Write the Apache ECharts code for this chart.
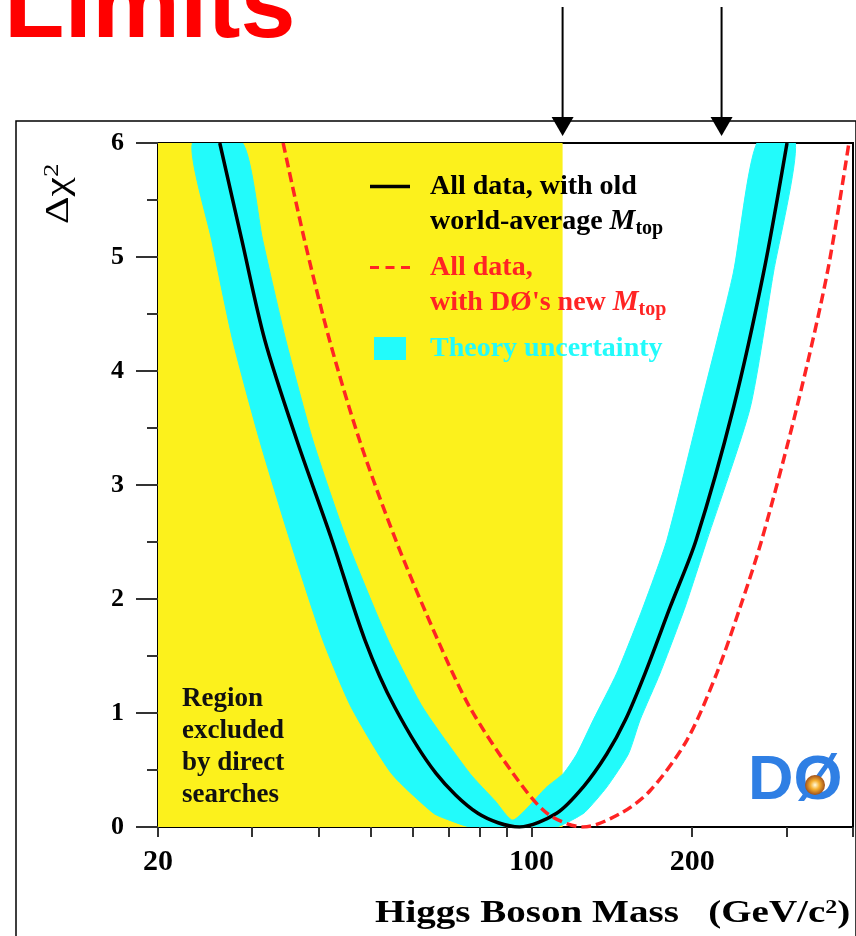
<!DOCTYPE html>
<html>
<head>
<meta charset="utf-8">
<title>Higgs mass limits</title>
<script src="https://cdn.jsdelivr.net/npm/echarts@6/dist/echarts.min.js"></script>
<style>
  html, body { margin: 0; padding: 0; background: #ffffff; }
  #chart { width: 856px; height: 936px; }
</style>
</head>
<body>
<div id="chart"></div>
<script>
// Δχ² of the electroweak fit versus the Higgs boson mass (GeV/c²).

// Axis ticks and labels
const massTicks = [20, 30, 40, 50, 60, 70, 80, 90, 100, 200, 300, 400];
const massLabels = [20, 100, 200];
const chiTicks = [0, 1, 2, 3, 4, 5, 6];

// Direct-search exclusion boundary and the two marked masses above the frame
const lepLimit = 114.4;
const arrowMasses = [114.4, 227];

// Fit with the old world-average top mass: [mass, Δχ²]
const oldMtopCurve = [
  [26.1, 6.0], [28.7, 5.15], [31.7, 4.27], [36.4, 3.39], [42.3, 2.52],
  [48.8, 1.64], [55.5, 1.05], [66.3, 0.47], [79.4, 0.12],
  [95, 0], [111.5, 0.12], [125, 0.35], [138.4, 0.64], [150, 0.94],
  [163.3, 1.35], [181.9, 1.93], [203.5, 2.52], [239, 3.68], [272, 4.86],
  [301, 6.0]
];

// Fit with the new DØ top mass: [mass, Δχ²]
const newMtopCurve = [
  [34.3, 6.0], [37.6, 5.15], [41.9, 4.27], [47.7, 3.39], [55.7, 2.52],
  [66.8, 1.64], [76.7, 1.05], [92.4, 0.47], [107.0, 0.12], [125, 0],
  [147, 0.12], [166.9, 0.32], [195.4, 0.76], [222.4, 1.35], [246, 1.93],
  [270, 2.52], [314, 3.68], [358, 4.86], [393, 6.0]
];

// Theory-uncertainty band: outer (lower) envelope, left top -> bottom -> right top
const theoryBandOuter = [
  [23.2, 6.0], [25.2, 5.15], [27.6, 4.27], [31.0, 3.39], [35.3, 2.52],
  [40.7, 1.64], [46.0, 1.05], [54.7, 0.47], [65.6, 0.12], [70.2, 0.06],
  [77.0, 0], [111, 0], [119, 0.06], [126, 0.13], [138.4, 0.35],
  [151.9, 0.64], [159.8, 0.94], [174.2, 1.35], [194, 1.93], [213.3, 2.52],
  [256.9, 3.68], [283.8, 4.86], [312, 6.0]
];

// Theory-uncertainty band: inner (upper) envelope, left top -> notch -> right top
const theoryBandInner = [
  [28.8, 6.0], [31.4, 5.15], [34.7, 4.27], [39.0, 3.39], [45.1, 2.52],
  [53.9, 1.64], [62.6, 1.05], [76.7, 0.47], [85.5, 0.23], [92.4, 0.06],
  [106.8, 0.35], [114.8, 0.47], [121.6, 0.64], [130.6, 0.94], [144.5, 1.35],
  [161.9, 1.93], [179.4, 2.52], [207.0, 3.68], [238.8, 4.86], [264.4, 6.0]
];

const seriesNames = [
  'All data, with old world-average Mtop',
  'All data, with DØ\'s new Mtop',
  'Theory uncertainty'
];
const legendLines = [
  'All data, with old\nworld-average {itK|M}{subK|top}',
  'All data,\nwith DØ\'s new {itR|M}{subR|top}',
  'Theory uncertainty'
];
const regionText = 'Region\nexcluded\nby direct\nsearches';

const SERIF = '"Liberation Serif", "Times New Roman", serif';
const SANS = '"Liberation Sans", Arial, sans-serif';
const YELLOW = '#fcf11c';
const CYAN = '#22fbfb';
const RED = '#ff2424';
const BLACK = '#000000';

const chart = echarts.init(document.getElementById('chart'), null, { renderer: 'canvas' });

const richLegend = {
  itK: { fontFamily: SERIF, fontWeight: 'bold', fontStyle: 'italic', fontSize: 29, color: BLACK },
  subK: { fontFamily: SERIF, fontWeight: 'bold', fontSize: 20, color: BLACK, verticalAlign: 'bottom' },
  itR: { fontFamily: SERIF, fontWeight: 'bold', fontStyle: 'italic', fontSize: 29, color: RED },
  subR: { fontFamily: SERIF, fontWeight: 'bold', fontSize: 20, color: RED, verticalAlign: 'bottom' }
};

const option = {
  animation: false,
  backgroundColor: '#ffffff',
  grid: {
    left: 158, right: 3, top: 143, bottom: 109,
    containLabel: false,
    outerBoundsMode: 'none',
    show: true,
    borderColor: BLACK,
    borderWidth: 2,
    backgroundColor: 'transparent'
  },
  legend: {
    orient: 'vertical',
    left: 370,
    top: 134,
    padding: 0,
    itemGap: -24,
    itemWidth: 40,
    itemHeight: 23,
    selectedMode: false,
    itemStyle: { borderWidth: 0 },
    textStyle: {
      fontFamily: SERIF, fontWeight: 'bold', fontSize: 28, lineHeight: 35,
      padding: [35, 0, 0, 15],
      rich: richLegend
    },
    formatter: function (name) {
      return legendLines[seriesNames.indexOf(name)];
    },
    data: [
      { name: seriesNames[0], icon: 'path://M0,0H40V3.5H0Z', textStyle: { color: BLACK } },
      { name: seriesNames[1], icon: 'path://M0,0H9V3H0Z M15.5,0H24.5V3H15.5Z M31,0H40V3H31Z', textStyle: { color: RED } },
      { name: seriesNames[2], icon: 'path://M0,0H32V23H0Z', textStyle: { color: CYAN, padding: [35, 0, 35, 15] } }
    ]
  },
  xAxis: {
    type: 'log',
    logBase: 10,
    min: 20,
    max: 400,
    axisLine: { show: true, onZero: false, lineStyle: { color: BLACK, width: 2 } },
    axisTick: { show: true, inside: false, length: 10, customValues: massTicks, lineStyle: { color: '#333', width: 2 } },
    minorTick: { show: false },
    axisLabel: {
      customValues: massLabels,
      margin: 20,
      color: BLACK,
      fontFamily: SERIF,
      fontWeight: 'bold',
      fontSize: 30
    },
    splitLine: { show: false },
    minorSplitLine: { show: false }
  },
  yAxis: {
    type: 'value',
    min: 0,
    max: 6,
    interval: 1,
    axisLine: { show: true, onZero: false, lineStyle: { color: BLACK, width: 2 } },
    axisTick: { show: true, inside: false, length: 22, lineStyle: { color: '#333', width: 2 } },
    minorTick: { show: true, splitNumber: 2, length: 11, lineStyle: { color: '#333', width: 2 } },
    axisLabel: {
      margin: 34,
      color: BLACK,
      fontFamily: SERIF,
      fontWeight: 'bold',
      fontSize: 26,
      formatter: function (v) { return chiTicks.indexOf(v) >= 0 ? String(v) : ''; }
    },
    splitLine: { show: false }
  },
  series: [
    {
      name: seriesNames[2],
      type: 'custom',
      coordinateSystem: 'cartesian2d',
      z: 2,
      clip: true,
      silent: true,
      itemStyle: { color: CYAN },
      data: [[lepLimit, 0]],
      renderItem: function (params, api) {
        if (params.dataIndex !== 0) return null;
        const outline = theoryBandOuter.concat(theoryBandInner.slice().reverse());
        const pts = outline.map(function (p) { return api.coord(p); });
        return {
          type: 'polygon',
          shape: { points: pts, smooth: 0.2 },
          style: { fill: CYAN, stroke: CYAN, lineWidth: 1 }
        };
      }
    },
    {
      name: seriesNames[0],
      type: 'line',
      z: 3,
      color: BLACK,
      data: oldMtopCurve,
      symbol: 'none',
      smooth: 0.3,
      silent: true,
      lineStyle: { color: BLACK, width: 3.5 },
      markArea: {
        silent: true,
        itemStyle: { color: YELLOW },
        label: {
          show: true,
          position: 'insideBottomLeft',
          distance: 16,
          padding: [0, 0, 0, 8],
          formatter: regionText,
          color: '#111',
          fontFamily: SERIF,
          fontWeight: 'bold',
          fontSize: 27,
          lineHeight: 32
        },
        data: [[{ xAxis: 20 }, { xAxis: lepLimit }]]
      }
    },
    {
      name: seriesNames[1],
      type: 'line',
      z: 4,
      color: RED,
      data: newMtopCurve,
      symbol: 'none',
      smooth: 0.3,
      silent: true,
      lineStyle: { color: RED, width: 3.5, type: [10, 5] }
    }
  ]
};

chart.setOption(option);

// Decorations placed through the axis scales: arrows above the frame, titles, logo.
function decorate() {
  const gridTop = 143;
  const elems = [];

  // outer frame
  elems.push({
    type: 'rect', z: 0,
    shape: { x: 16, y: 121, width: 840, height: 900 },
    style: { fill: 'none', stroke: '#000', lineWidth: 1.5 }
  });

  arrowMasses.forEach(function (m) {
    const px = chart.convertToPixel({ xAxisIndex: 0 }, m);
    elems.push({
      type: 'line', z: 10,
      shape: { x1: px, y1: 7, x2: px, y2: gridTop - 24 },
      style: { stroke: '#000', lineWidth: 2 }
    });
    elems.push({
      type: 'polygon', z: 10,
      shape: { points: [[px - 11, gridTop - 26], [px + 11, gridTop - 26], [px, gridTop - 7]] },
      style: { fill: '#000' }
    });
  });

  // slide heading
  elems.push({
    type: 'text', z: 10, x: 4, y: 59,
    style: {
      text: 'Limits',
      fill: '#ff0000',
      font: 'bold 99px ' + SANS,
      align: 'left',
      verticalAlign: 'bottom',
      textShadowColor: '#b0b0b0',
      textShadowOffsetX: 4,
      textShadowOffsetY: 4
    }
  });

  // y-axis title Δχ²
  elems.push({
    type: 'text', z: 10, x: 59, y: 194,
    rotation: Math.PI / 2,
    scaleX: 1.28,
    style: {
      text: '{a|Δχ}{b|2}',
      fill: '#000',
      align: 'center',
      verticalAlign: 'middle',
      rich: {
        a: { fontFamily: SERIF, fontSize: 34, fill: '#000' },
        b: { fontFamily: SERIF, fontSize: 21, fill: '#000', verticalAlign: 'top' }
      }
    }
  });

  // x-axis title
  elems.push({
    type: 'text', z: 10, x: 375, y: 914,
    scaleX: 1.26,
    style: {
      text: '{t|Higgs Boson Mass}   {t|(GeV/c}{s|2}{t|)}',
      fill: '#000',
      font: 'bold 31px ' + SERIF,
      align: 'left',
      verticalAlign: 'middle',
      rich: {
        t: { fontFamily: SERIF, fontWeight: 'bold', fontSize: 31, fill: '#000' },
        s: { fontFamily: SERIF, fontWeight: 'bold', fontSize: 19, fill: '#000', verticalAlign: 'top' }
      }
    }
  });

  // DØ logo
  elems.push({
    type: 'text', z: 10, x: 748, y: 750,
    style: {
      text: 'DØ',
      fill: '#2f7fe4',
      font: 'bold 63px ' + SANS,
      align: 'left',
      verticalAlign: 'top'
    }
  });
  elems.push({
    type: 'circle', z: 11,
    shape: { cx: 815, cy: 785, r: 10 },
    style: {
      fill: {
        type: 'radial', x: 0.5, y: 0.5, r: 0.5,
        colorStops: [
          { offset: 0, color: '#fffbe0' },
          { offset: 0.45, color: '#f6b030' },
          { offset: 1, color: '#a0501a' }
        ]
      }
    }
  });

  chart.setOption({ graphic: { elements: elems } });
}
decorate();
</script>
</body>
</html>
